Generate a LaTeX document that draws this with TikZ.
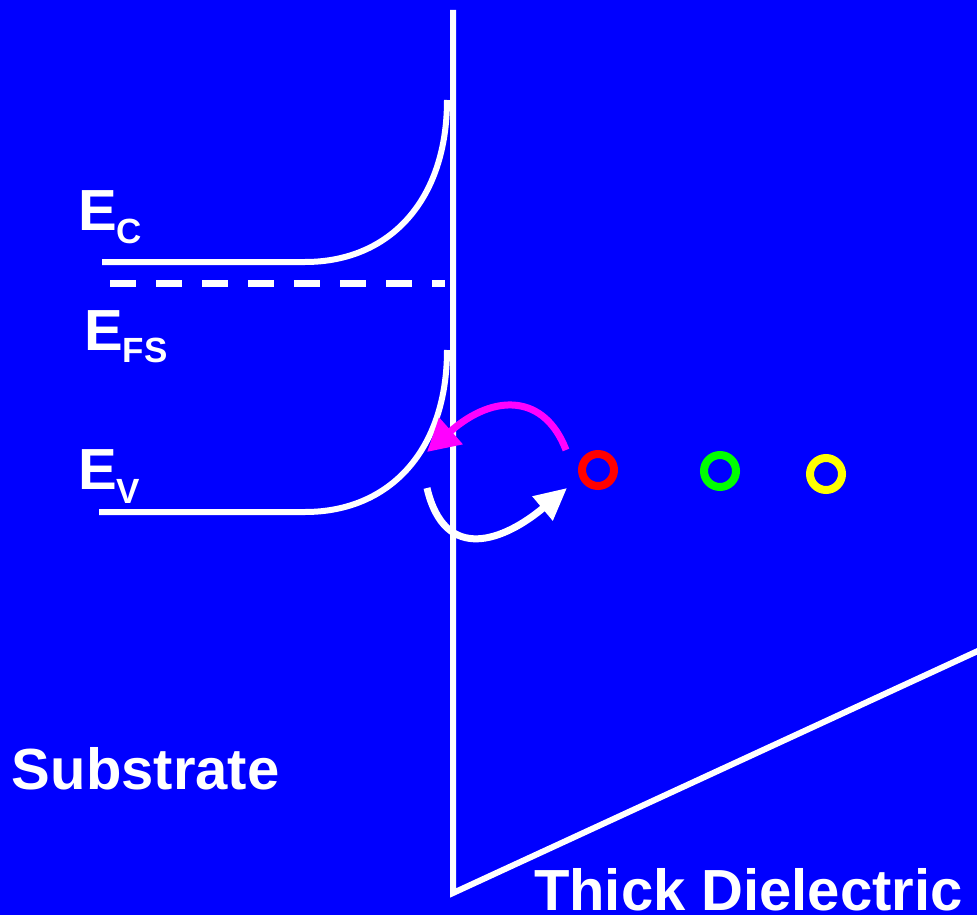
\documentclass[tikz,border=0pt]{standalone}
\usepackage{fontspec}
\setmainfont{Liberation Sans}
\usetikzlibrary{arrows.meta}
\definecolor{bg}{HTML}{0000FF}
\definecolor{magarrow}{HTML}{FF00FF}
\definecolor{trapred}{HTML}{FF0000}
\definecolor{trapgreen}{HTML}{00FF00}
\definecolor{trapyellow}{HTML}{FFFF00}
\newcommand\subsz{\fontsize{35}{35}\selectfont}
\tikzset{
  band/.style={draw=white, line width=6pt},
  lbl/.style={text=white, inner sep=0pt, outer sep=0pt, anchor=base west,
              font=\fontsize{58}{60}\selectfont\bfseries},
  trap/.style={circle, draw=#1, line width=8pt, minimum size=32pt, inner sep=0pt},
  hop/.style={line width=7pt}
}
\begin{document}
\begin{tikzpicture}[x=1pt,y=-1pt]
\fill[bg] (0,0) rectangle (977,915);
\useasboundingbox (0,0) rectangle (977,915);
% interface and dielectric band
\draw[band, line join=miter] (453,10) -- (453,893) -- (980,650);
% conduction band
\draw[band] (102,262) -- (305,262) .. controls (390,262) and (447,200) .. (447,100);
% Fermi level
\draw[band, line width=7pt, dash pattern=on 26pt off 20pt] (110,283) -- (445,283);
% valence band
\draw[band] (99,512) -- (305,512) .. controls (390,512) and (447,450) .. (447,350);
% traps
\node[trap=trapred] (t1) at (598,470) {};
\node[trap=trapgreen] (t2) at (720,471) {};
\node[trap=trapyellow] (t3) at (826,474) {};
% arrows
\coordinate (mstart) at (566,450);
\coordinate (mend) at (427,452);
\draw[hop, magarrow, -{Triangle[length=32pt,width=34pt]}] (mstart) .. controls (545,395) and (495,392) .. (mend);
\coordinate (wstart) at (427,488);
\coordinate (wend) at (567,488);
\draw[hop, white, -{Triangle[length=32pt,width=30pt]}] (wstart) .. controls (445,565) and (505,540) .. (wend);
% labels
\node[lbl] (ec) at (78,230) {E\raisebox{-13pt}{\subsz C}};
\node[lbl] (efs) at (84,350) {E\raisebox{-12pt}{\subsz FS}};
\node[lbl] (ev) at (78,489) {E\raisebox{-14pt}{\subsz V}};
\node[lbl] (sub) at (12,789) {Substrate};
\node[lbl] (die) at (534,910) {Thick Dielectric};
\end{tikzpicture}
\end{document}
